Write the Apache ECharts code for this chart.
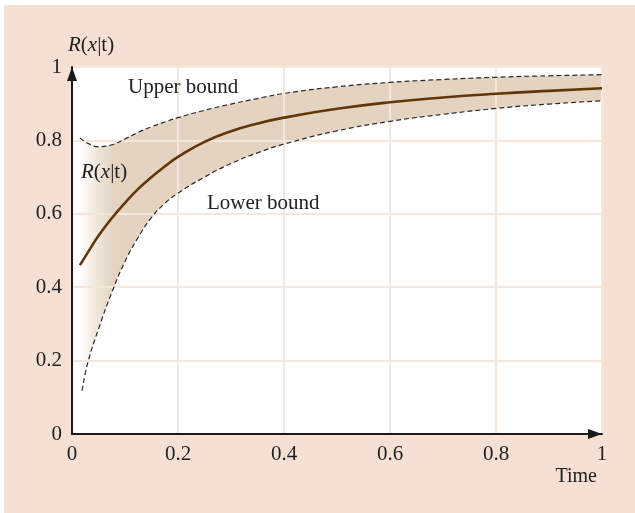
<!DOCTYPE html>
<html><head><meta charset="utf-8">
<script src="https://cdn.jsdelivr.net/npm/echarts@6/dist/echarts.min.js"></script>
<style>
html,body{margin:0;padding:0;background:#fff;}
#bg{position:absolute;left:4px;top:5px;width:631px;height:508px;background:#f6e0d4;}
#chart{position:absolute;left:0;top:0;width:635px;height:513px;}
</style></head><body>
<div id="bg"></div><div id="chart"></div>
<script>
// Time values (x) for the estimate and the upper bound
const timeX = [0.015, 0.03, 0.05, 0.075, 0.1, 0.125, 0.15, 0.175, 0.2, 0.25, 0.3, 0.35, 0.4, 0.5, 0.6, 0.7, 0.8, 0.9, 1.0];
// R(x|t) estimate
const reliability = [0.460, 0.495, 0.540, 0.588, 0.630, 0.668, 0.700, 0.729, 0.755, 0.796, 0.825, 0.846, 0.862, 0.886, 0.904, 0.917, 0.927, 0.935, 0.942];
// Upper bound
const upperBound = [0.807, 0.792, 0.783, 0.788, 0.804, 0.822, 0.837, 0.850, 0.862, 0.882, 0.899, 0.914, 0.928, 0.946, 0.958, 0.966, 0.972, 0.976, 0.979];
// Time values (x) for the lower bound
const lowerX = [0.019, 0.03, 0.05, 0.075, 0.1, 0.125, 0.15, 0.175, 0.2, 0.25, 0.3, 0.35, 0.4, 0.5, 0.6, 0.7, 0.8, 0.9, 1.0];
// Lower bound
const lowerBound = [0.118, 0.195, 0.286, 0.385, 0.470, 0.536, 0.590, 0.628, 0.656, 0.700, 0.737, 0.766, 0.790, 0.826, 0.852, 0.871, 0.887, 0.899, 0.908];
// Tick labels
const xTickLabels = ['0', '0.2', '0.4', '0.6', '0.8', '1'];
const yTickLabels = ['0', '0.2', '0.4', '0.6', '0.8', '1'];

const SERIF = "'Liberation Serif', 'Times New Roman', serif";
const TXT = '#222';
const pairs = (xs, ys) => xs.map((x, i) => [x, ys[i]]);

const chart = echarts.init(document.getElementById('chart'), null, {renderer: 'canvas'});

const axisCommon = (labels) => ({
  type: 'value', min: 0, max: 1, interval: 0.2, z: 3,
  axisLine: {show: true, lineStyle: {color: '#1a1a1a', width: 2},
    symbol: ['none', 'triangle'], symbolSize: [10, 14], symbolOffset: [0, -7]},
  axisTick: {show: false},
  splitLine: {show: true, lineStyle: {color: '#f6e7dd', width: 2}},
  axisLabel: {color: TXT, fontFamily: SERIF, fontSize: 21, margin: 10,
    formatter: v => labels[Math.round(v / 0.2)]}
});

const rich = {
  i: {fontStyle: 'italic', fontFamily: SERIF, fontSize: 21, fill: TXT, color: TXT},
  n: {fontFamily: SERIF, fontSize: 21, fill: TXT, color: TXT}
};
const rText = '{i|R}{n|(}{i|x}{n||t)}';
const lineBase = {type: 'line', smooth: true, symbol: 'none', silent: true};

chart.setOption({
  animation: false,
  grid: {left: 72, top: 67, width: 530, height: 367, show: true, backgroundColor: '#ffffff', borderWidth: 0, containLabel: false},
  xAxis: axisCommon(xTickLabels),
  yAxis: axisCommon(yTickLabels),
  series: [
    // tan band: filled under the upper bound ...
    Object.assign({}, lineBase, {name: 'bandTop', data: pairs(timeX, upperBound), z: 2,
      lineStyle: {width: 0, opacity: 0},
      areaStyle: {opacity: 1, color: new echarts.graphic.LinearGradient(0, 0, 1, 0, [
        {offset: 0, color: '#ffffff'},
        {offset: 0.03, color: '#f1e8dd'},
        {offset: 0.065, color: '#e3d3c0'},
        {offset: 1, color: '#e3d3c0'}])}}),
    // ... and cleared below the lower bound
    Object.assign({}, lineBase, {name: 'bandBottom', data: pairs(lowerX, lowerBound), z: 2,
      lineStyle: {width: 0, opacity: 0},
      areaStyle: {opacity: 1, color: '#ffffff'}}),
    Object.assign({}, lineBase, {name: 'Upper bound', data: pairs(timeX, upperBound), z: 4,
      lineStyle: {color: '#2a2a2a', width: 1.2, type: [5, 3]}}),
    Object.assign({}, lineBase, {name: 'Lower bound', data: pairs(lowerX, lowerBound), z: 4,
      lineStyle: {color: '#2a2a2a', width: 1.2, type: [5, 3]}}),
    Object.assign({}, lineBase, {name: 'R(x|t)', data: pairs(timeX, reliability), z: 5,
      lineStyle: {color: '#633607', width: 2.6}})
  ],
  graphic: [
    {type: 'text', x: 68, y: 45.5, z: 10, style: {text: rText, rich: rich, fontFamily: SERIF, fontSize: 21, fill: TXT, verticalAlign: 'middle'}},
    {type: 'text', x: 81, y: 172.5, z: 10, style: {text: rText, rich: rich, fontFamily: SERIF, fontSize: 21, fill: TXT, verticalAlign: 'middle'}},
    {type: 'text', x: 128, y: 87, z: 10, style: {text: 'Upper bound', fontFamily: SERIF, fontSize: 21, fill: TXT, verticalAlign: 'middle'}},
    {type: 'text', x: 207, y: 203, z: 10, style: {text: 'Lower bound', fontFamily: SERIF, fontSize: 21, fill: TXT, verticalAlign: 'middle'}},
    {type: 'text', x: 597, y: 476.5, z: 10, style: {text: 'Time', fontFamily: SERIF, fontSize: 20, fill: TXT, align: 'right', verticalAlign: 'middle'}}
  ]
});
</script>
</body></html>
